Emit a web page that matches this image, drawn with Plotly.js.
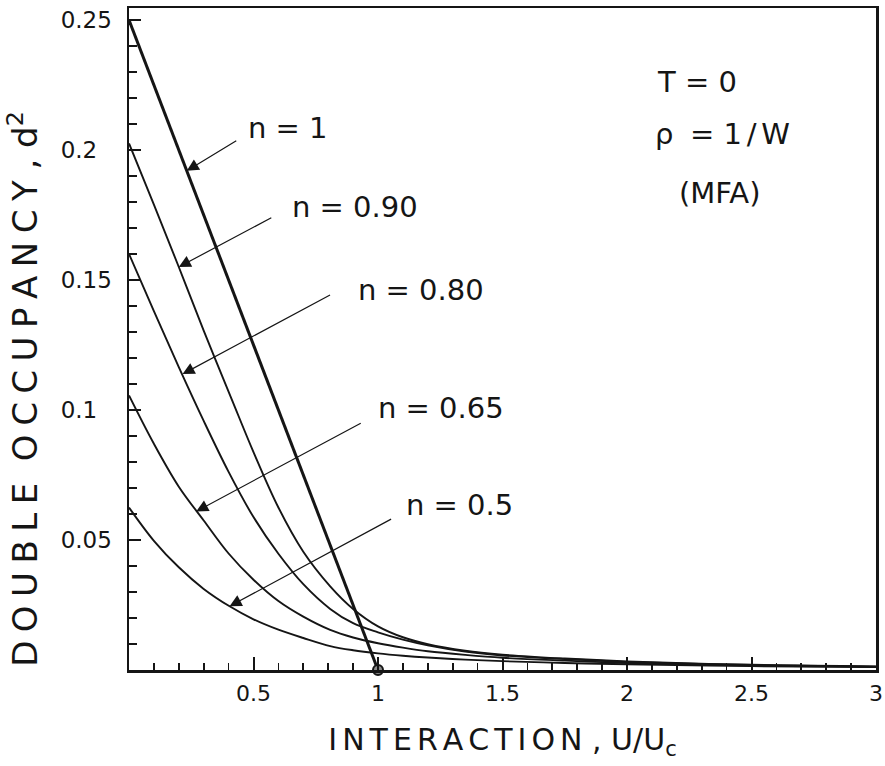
<!DOCTYPE html>
<html>
<head>
<meta charset="utf-8">
<script src="https://cdn.plot.ly/plotly-3.0.1.min.js"></script>
<style>
  html, body { margin: 0; padding: 0; background: #fff; }
  #chart { width: 885px; height: 766px; }
</style>
</head>
<body>
<div id="chart"></div>
<script>
// Double occupancy d^2 versus interaction U/Uc at T = 0 (mean-field, flat DOS rho = 1/W)

// n = 1: straight drop to zero at U = Uc
const u_n100 = [0, 1];
const d_n100 = [0.25, 0];

const u_n090 = [0, 0.1, 0.2, 0.3, 0.413, 0.5, 0.6, 0.7, 0.808, 0.9, 1.0, 1.1, 1.2, 1.35, 1.5, 1.75, 2, 2.5, 3];
const d_n090 = [0.2025, 0.179, 0.155, 0.1305, 0.104, 0.0838, 0.0625, 0.0455, 0.0322, 0.0235, 0.0168, 0.0126, 0.0099, 0.0074, 0.0059, 0.0044, 0.0033, 0.002, 0.0014];

const u_n080 = [0, 0.1, 0.2, 0.3, 0.4, 0.5, 0.6, 0.7, 0.808, 0.9, 1.0, 1.1, 1.2, 1.35, 1.5, 1.75, 2, 2.5, 3];
const d_n080 = [0.16, 0.138, 0.1165, 0.0958, 0.0762, 0.0588, 0.0447, 0.033, 0.0235, 0.018, 0.0145, 0.0117, 0.0095, 0.0071, 0.0056, 0.0042, 0.0031, 0.0019, 0.0013];

const u_n065 = [0, 0.1, 0.2, 0.3, 0.4, 0.5, 0.6, 0.7, 0.808, 0.9, 1.0, 1.1, 1.2, 1.35, 1.5, 1.75, 2, 2.5, 3];
const d_n065 = [0.1056, 0.087, 0.0705, 0.0575, 0.0448, 0.0347, 0.0265, 0.0205, 0.0154, 0.0125, 0.0103, 0.0086, 0.0072, 0.0058, 0.0047, 0.0036, 0.0027, 0.0017, 0.0012];

const u_n050 = [0, 0.1, 0.2, 0.3, 0.404, 0.5, 0.6, 0.7, 0.808, 0.9, 1.0, 1.1, 1.2, 1.35, 1.5, 1.75, 2, 2.5, 3];
const d_n050 = [0.0625, 0.0497, 0.0395, 0.0312, 0.0245, 0.0195, 0.0155, 0.0123, 0.0092, 0.0076, 0.0064, 0.0055, 0.0048, 0.004, 0.0034, 0.0027, 0.0022, 0.0015, 0.0011];

// critical point marker
const u_crit = [1];
const d_crit = [0];

// tick labels
const xTickVals = [0.5, 1, 1.5, 2, 2.5, 3];
const xTickText = ['0.5', '1', '1.5', '2', '2.5', '3'];
const yTickVals = [0.05, 0.1, 0.15, 0.2, 0.25];
const yTickText = ['0.05', '0.1\u2007', '0.15', '0.2\u2007', '0.25'];

// curve labels and where their arrows point
const curveLabels = ['n = 1', 'n = 0.90', 'n = 0.80', 'n = 0.65', 'n = 0.5'];
const labelU = [0.639, 0.908, 1.173, 1.253, 1.329];
const labelD = [0.2085, 0.178, 0.146, 0.1008, 0.0635];
const arrowU = [0.232, 0.2, 0.215, 0.27, 0.404];
const arrowD = [0.192, 0.155, 0.1138, 0.061, 0.0245];
const arrowAx = [51, 94, 149, 166, 163];
const arrowAy = [-31, -50, -80, -89, -88];

const INK = '#151515';
const FONT = 'DejaVu Sans, sans-serif';

function curve(x, y, w) {
  return {
    x: x, y: y, type: 'scatter', mode: 'lines',
    line: { color: INK, width: w, shape: 'spline', smoothing: 1 },
    hoverinfo: 'skip', showlegend: false
  };
}

const traces = [
  { x: u_n100, y: d_n100, type: 'scatter', mode: 'lines',
    line: { color: INK, width: 3 }, showlegend: false, hoverinfo: 'skip' },
  curve(u_n090, d_n090, 1.9),
  curve(u_n080, d_n080, 1.9),
  curve(u_n065, d_n065, 1.9),
  curve(u_n050, d_n050, 1.9),
  { x: u_crit, y: d_crit, type: 'scatter', mode: 'markers', cliponaxis: false,
    marker: { size: 10, color: '#8a8a8a', line: { color: INK, width: 2 } },
    showlegend: false, hoverinfo: 'skip' }
];

const annotations = [];
for (let i = 0; i < curveLabels.length; i++) {
  // arrow
  annotations.push({
    x: arrowU[i], y: arrowD[i], xref: 'x', yref: 'y',
    ax: arrowAx[i], ay: arrowAy[i], text: '', showarrow: true,
    arrowhead: 2, arrowsize: 2, arrowwidth: 1.2, arrowcolor: INK, standoff: 0
  });
  // label
  annotations.push({
    x: labelU[i], y: labelD[i], xref: 'x', yref: 'y', showarrow: false,
    text: curveLabels[i], font: { family: FONT, size: 29, color: INK },
    xanchor: 'center', yanchor: 'middle'
  });
}
const notes = ['T = 0', '\u03c1\u2005 = 1\u2006/\u2006W', '(MFA)'];
const noteU = [2.28, 2.385, 2.373];
const noteD = [0.226, 0.206, 0.1835];
for (let i = 0; i < notes.length; i++) {
  annotations.push({
    x: noteU[i], y: noteD[i], xref: 'x', yref: 'y', showarrow: false,
    text: notes[i], font: { family: FONT, size: 29, color: INK },
    xanchor: 'center', yanchor: 'middle'
  });
}

// letter-spaced lettering for the axis titles
function spaced(s, gap) { return s.split('').join(gap); }

// vertical axis title
annotations.push({
  xref: 'paper', yref: 'paper', x: -0.143, y: 0.425,
  xanchor: 'center', yanchor: 'middle', textangle: -90, showarrow: false,
  text: spaced('DOUBLE', '\u2005') + '  ' + spaced('OCCUPANCY', '\u2005') + ' , d<sup>2</sup>',
  font: { family: FONT, size: 34, color: INK }
});

const layout = {
  width: 885, height: 766,
  margin: { l: 129, r: 9, t: 8, b: 96 },
  paper_bgcolor: '#ffffff', plot_bgcolor: '#ffffff',
  font: { family: FONT, color: INK },
  showlegend: false,
  xaxis: {
    range: [0, 3], showgrid: false, zeroline: false,
    showline: true, linecolor: INK, linewidth: 2.5, mirror: true,
    ticks: 'inside', ticklen: 13, tickwidth: 2, tickcolor: INK,
    tickvals: xTickVals, ticktext: xTickText,
    ticklabelstandoff: 2,
    tickfont: { family: FONT, size: 22, color: INK },
    minor: { dtick: 0.1, ticks: 'inside', ticklen: 7, tickwidth: 1.6, tickcolor: INK, showgrid: false },
    title: { text: spaced('INTERACTION', '\u2006') + ' , ' + 'U/U<sub>c</sub>', standoff: 24,
             font: { family: FONT, size: 30, color: INK } }
  },
  yaxis: {
    range: [0, 0.2546], showgrid: false, zeroline: false,
    showline: true, linecolor: INK, linewidth: 2.5, mirror: true,
    ticks: 'inside', ticklen: 12, tickwidth: 2, tickcolor: INK,
    tickvals: yTickVals, ticktext: yTickText,
    ticklabelstandoff: 10,
    tickfont: { family: FONT, size: 23, color: INK },
    minor: { dtick: 0.01, ticks: 'inside', ticklen: 8, tickwidth: 1.6, tickcolor: INK, showgrid: false }
  },
  annotations: annotations
};

Plotly.newPlot('chart', traces, layout, { staticPlot: true, displayModeBar: false });
</script>
</body>
</html>
